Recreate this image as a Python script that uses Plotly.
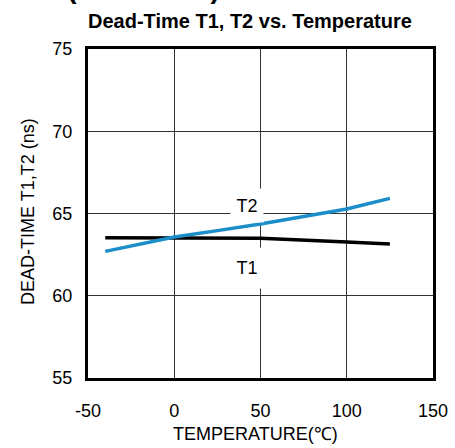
import plotly.graph_objects as go

temp = [-40, 0, 25, 50, 100, 125]
t1 = [63.52, 63.52, 63.52, 63.49, 63.27, 63.15]
t2 = [62.70, 63.57, 63.96, 64.36, 65.27, 65.92]

x_ticks = [-50, 0, 50, 100, 150]
x_tick_text = ["-50", "0", "50", "100", "150"]
y_ticks = [55, 60, 65, 70, 75]

FONT = "Liberation Sans, Arial, sans-serif"
BLUE = "#1b8dc8"

fig = go.Figure()
fig.add_trace(go.Scatter(x=temp, y=t1, mode="lines", line=dict(color="black", width=3.5), name="T1"))
fig.add_trace(go.Scatter(x=temp, y=t2, mode="lines", line=dict(color=BLUE, width=3.5), name="T2"))

W, H = 455, 448
ml, mr, mt, mb = 88, 22, 49, 70
pw, ph = W - ml - mr, H - mt - mb

def px_x(p):
    return (p - ml) / pw

def px_y(p):
    return 1 - (p - mt) / ph

fig.update_layout(
    width=W, height=H,
    margin=dict(l=ml, r=mr, t=mt, b=mb, pad=0, autoexpand=False),
    paper_bgcolor="white", plot_bgcolor="white",
    showlegend=False,
    font=dict(family=FONT, size=18, color="black"),
    xaxis=dict(
        range=[-50, 150], tickvals=x_ticks, ticktext=x_tick_text, ticks="", showgrid=True,
        gridcolor="#333333", gridwidth=1, zeroline=False, automargin=False,
        showline=True, linecolor="black", linewidth=3, mirror=True,
        ticklabelstandoff=14, tickfont=dict(size=18),
    ),
    yaxis=dict(
        range=[55, 75], tickvals=y_ticks, ticks="", showgrid=True,
        gridcolor="#333333", gridwidth=1, zeroline=False, automargin=False,
        showline=True, linecolor="black", linewidth=3, mirror=True,
        ticklabelstandoff=9, tickfont=dict(size=18),
    ),
    annotations=[
        dict(text="<b>Typical Characteristics (continued)</b>", xref="paper", yref="paper",
             x=px_x(222), y=px_y(6.5), xanchor="right", yanchor="bottom",
             showarrow=False, font=dict(size=28, family=FONT, color="black")),
        dict(text="<b>Dead-Time T1, T2 vs. Temperature</b>", xref="paper", yref="paper",
             x=px_x(249.5), y=px_y(34), xanchor="center", yanchor="bottom",
             showarrow=False, font=dict(size=20, family=FONT, color="black")),
        dict(text="TEMPERATURE(℃)", xref="paper", yref="paper",
             x=px_x(255), y=px_y(446), xanchor="center", yanchor="bottom",
             showarrow=False, font=dict(size=18, family=FONT, color="black")),
        dict(text="DEAD-TIME T1,T2 (ns)", xref="paper", yref="paper", textangle=-90,
             x=px_x(28), y=px_y(212), xanchor="center", yanchor="middle",
             showarrow=False, font=dict(size=18, family=FONT, color="black")),
        dict(text="T2", x=42, y=65.46, xref="x", yref="y", showarrow=False,
             bgcolor="white", width=30, height=31, font=dict(size=18)),
        dict(text="T1", x=42, y=61.66, xref="x", yref="y", showarrow=False,
             bgcolor="white", width=30, height=38, font=dict(size=18)),
    ],
)

fig.write_html("out.html", config={"displayModeBar": False},
               post_script="document.body.style.margin='0';")
